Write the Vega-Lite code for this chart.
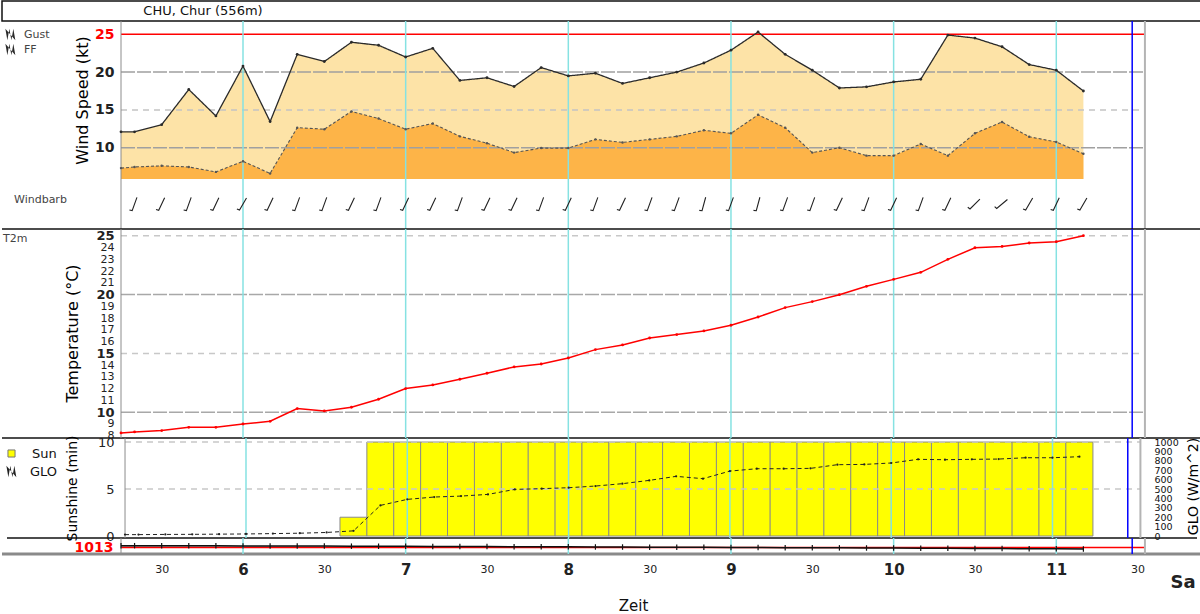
{
  "$schema": "https://vega.github.io/schema/vega-lite/v6.json",
  "padding": 0,
  "background": "white",
  "config": {
    "view": {"stroke": null},
    "font": "DejaVu Sans",
    "axis": {"labelFont": "DejaVu Sans", "titleFont": "DejaVu Sans", "labelOverlap": false, "labelFlush": false, "labelBound": false},
    "legend": {"labelFont": "DejaVu Sans"},
    "title": {"font": "DejaVu Sans"}
  },
  "datasets": {
    "hours": [{"t": "2024-06-01T06:00:00Z"}, {"t": "2024-06-01T07:00:00Z"}, {"t": "2024-06-01T08:00:00Z"}, {"t": "2024-06-01T09:00:00Z"}, {"t": "2024-06-01T10:00:00Z"}, {"t": "2024-06-01T11:00:00Z"}],
    "lborder": [{"t": "2024-06-01T05:15:00Z"}],
    "rborder": [{"t": "2024-06-01T11:32:42Z"}],
    "now": [{"t": "2024-06-01T11:28:00Z"}],
    "obs": [
      {"t": "2024-06-01T05:15:00Z", "gust": 12.1, "ff": 7.3, "temp": 8.24, "sun": 0, "glo": 15, "p": 1013.30},
      {"t": "2024-06-01T05:20:00Z", "gust": 12.1, "ff": 7.45, "dir": 200, "temp": 8.33, "sun": 0, "glo": 15, "p": 1013.30},
      {"t": "2024-06-01T05:30:00Z", "gust": 13.05, "ff": 7.6, "dir": 205, "temp": 8.44, "sun": 0, "glo": 17, "p": 1013.29},
      {"t": "2024-06-01T05:40:00Z", "gust": 17.7, "ff": 7.45, "dir": 200, "temp": 8.72, "sun": 0, "glo": 18, "p": 1013.28},
      {"t": "2024-06-01T05:50:00Z", "gust": 14.2, "ff": 6.8, "dir": 205, "temp": 8.72, "sun": 0, "glo": 20, "p": 1013.28},
      {"t": "2024-06-01T06:00:00Z", "gust": 20.8, "ff": 8.2, "dir": 210, "temp": 9.0, "sun": 0, "glo": 22, "p": 1013.27},
      {"t": "2024-06-01T06:10:00Z", "gust": 13.45, "ff": 6.6, "dir": 205, "temp": 9.23, "sun": 0, "glo": 26, "p": 1013.25},
      {"t": "2024-06-01T06:20:00Z", "gust": 22.35, "ff": 12.65, "dir": 200, "temp": 10.31, "sun": 0, "glo": 30, "p": 1013.25},
      {"t": "2024-06-01T06:30:00Z", "gust": 21.4, "ff": 12.45, "dir": 200, "temp": 10.11, "sun": 0, "glo": 38, "p": 1013.24},
      {"t": "2024-06-01T06:40:00Z", "gust": 23.95, "ff": 14.8, "dir": 205, "temp": 10.42, "sun": 2, "glo": 55, "p": 1013.22},
      {"t": "2024-06-01T06:50:00Z", "gust": 23.55, "ff": 13.85, "dir": 200, "temp": 11.1, "sun": 10, "glo": 326, "p": 1013.21},
      {"t": "2024-06-01T07:00:00Z", "gust": 22.0, "ff": 12.45, "dir": 205, "temp": 12.01, "sun": 10, "glo": 390, "p": 1013.20},
      {"t": "2024-06-01T07:10:00Z", "gust": 23.15, "ff": 13.2, "dir": 205, "temp": 12.32, "sun": 10, "glo": 415, "p": 1013.18},
      {"t": "2024-06-01T07:20:00Z", "gust": 18.9, "ff": 11.5, "dir": 200, "temp": 12.8, "sun": 10, "glo": 425, "p": 1013.17},
      {"t": "2024-06-01T07:30:00Z", "gust": 19.25, "ff": 10.6, "dir": 205, "temp": 13.31, "sun": 10, "glo": 443, "p": 1013.15},
      {"t": "2024-06-01T07:40:00Z", "gust": 18.1, "ff": 9.35, "dir": 205, "temp": 13.85, "sun": 10, "glo": 496, "p": 1013.14},
      {"t": "2024-06-01T07:50:00Z", "gust": 20.6, "ff": 9.95, "dir": 200, "temp": 14.1, "sun": 10, "glo": 504, "p": 1013.12},
      {"t": "2024-06-01T08:00:00Z", "gust": 19.5, "ff": 9.95, "dir": 205, "temp": 14.61, "sun": 10, "glo": 514, "p": 1013.11},
      {"t": "2024-06-01T08:10:00Z", "gust": 19.85, "ff": 11.1, "dir": 200, "temp": 15.32, "sun": 10, "glo": 532, "p": 1013.09},
      {"t": "2024-06-01T08:20:00Z", "gust": 18.5, "ff": 10.7, "dir": 205, "temp": 15.72, "sun": 10, "glo": 557, "p": 1013.08},
      {"t": "2024-06-01T08:30:00Z", "gust": 19.25, "ff": 11.1, "dir": 200, "temp": 16.31, "sun": 10, "glo": 592, "p": 1013.06},
      {"t": "2024-06-01T08:40:00Z", "gust": 20.0, "ff": 11.5, "dir": 200, "temp": 16.6, "sun": 10, "glo": 635, "p": 1013.04},
      {"t": "2024-06-01T08:50:00Z", "gust": 21.2, "ff": 12.3, "dir": 195, "temp": 16.91, "sun": 10, "glo": 610, "p": 1013.03},
      {"t": "2024-06-01T09:00:00Z", "gust": 22.9, "ff": 11.9, "dir": 200, "temp": 17.39, "sun": 10, "glo": 691, "p": 1013.01},
      {"t": "2024-06-01T09:10:00Z", "gust": 25.3, "ff": 14.35, "dir": 195, "temp": 18.09, "sun": 10, "glo": 716, "p": 1012.99},
      {"t": "2024-06-01T09:20:00Z", "gust": 22.35, "ff": 12.65, "dir": 200, "temp": 18.89, "sun": 10, "glo": 716, "p": 1012.97},
      {"t": "2024-06-01T09:30:00Z", "gust": 20.25, "ff": 9.35, "dir": 200, "temp": 19.4, "sun": 10, "glo": 720, "p": 1012.96},
      {"t": "2024-06-01T09:40:00Z", "gust": 17.9, "ff": 10.0, "dir": 205, "temp": 19.99, "sun": 10, "glo": 759, "p": 1012.94},
      {"t": "2024-06-01T09:50:00Z", "gust": 18.05, "ff": 8.95, "dir": 200, "temp": 20.7, "sun": 10, "glo": 762, "p": 1012.92},
      {"t": "2024-06-01T10:00:00Z", "gust": 18.7, "ff": 8.95, "dir": 205, "temp": 21.29, "sun": 10, "glo": 777, "p": 1012.90},
      {"t": "2024-06-01T10:10:00Z", "gust": 19.05, "ff": 10.5, "dir": 200, "temp": 21.89, "sun": 10, "glo": 816, "p": 1012.88},
      {"t": "2024-06-01T10:20:00Z", "gust": 24.9, "ff": 8.95, "dir": 205, "temp": 22.99, "sun": 10, "glo": 812, "p": 1012.86},
      {"t": "2024-06-01T10:30:00Z", "gust": 24.5, "ff": 11.9, "dir": 225, "temp": 23.98, "sun": 10, "glo": 816, "p": 1012.84},
      {"t": "2024-06-01T10:40:00Z", "gust": 23.35, "ff": 13.4, "dir": 230, "temp": 24.09, "sun": 10, "glo": 819, "p": 1012.82},
      {"t": "2024-06-01T10:50:00Z", "gust": 21.0, "ff": 11.45, "dir": 210, "temp": 24.38, "sun": 10, "glo": 833, "p": 1012.80},
      {"t": "2024-06-01T11:00:00Z", "gust": 20.25, "ff": 10.75, "dir": 205, "temp": 24.49, "sun": 10, "glo": 833, "p": 1012.78},
      {"t": "2024-06-01T11:10:00Z", "gust": 17.5, "ff": 9.2, "dir": 210, "temp": 25.0, "sun": 10, "glo": 844, "p": 1012.76}
    ]
  },
  "spacing": 0,
  "bounds": "flush",
  "resolve": {"scale": {"strokeDash": "independent", "fill": "independent"}, "legend": {"strokeDash": "independent", "fill": "independent"}},
  "vconcat": [
    {
      "width": 1200, "height": 20,
      "view": {"stroke": "#111111", "strokeWidth": 1.5},
      "data": {"values": [{"station": "CHU, Chur (556m)"}]},
      "mark": {"type": "text", "dx": -399, "fontSize": 13, "color": "#111111"},
      "encoding": {"text": {"field": "station"}}
    },
    {
      "width": 1200, "height": 158,
      "data": {"name": "obs"},
      "layer": [
        {"mark": {"type": "area", "color": "#fde3a7"},
         "encoding": {
           "x": {"field": "t", "type": "temporal", "scale": {"type": "utc", "domain": [{"year": 2024, "month": 6, "date": 1, "hours": 4, "minutes": 31, "seconds": 6, "utc": true}, {"year": 2024, "month": 6, "date": 1, "hours": 11, "minutes": 53, "seconds": 45, "utc": true}]}, "axis": null},
           "y": {"field": "gust", "type": "quantitative", "scale": {"domain": [5.86, 26.76], "nice": false, "zero": false},
             "axis": {"orient": "left", "offset": -119, "ticks": false, "domain": false, "grid": false, "values": [10, 15, 20, 25], "labelFontSize": 14, "labelFontWeight": "bold", "labelColor": {"condition": {"test": "datum.value == 25", "value": "#ff0000"}, "value": "#222222"}, "labelPadding": 7, "title": "Wind Speed (kt)", "titleFontSize": 16, "titleFontWeight": "normal", "titleColor": "#000000", "titleX": -39, "titleY": 79, "titleAngle": -90, "titleBaseline": "middle", "titleAlign": "center"}},
           "y2": {"datum": 5.86}}},
        {"mark": {"type": "area", "color": "#fdb448"},
         "encoding": {
           "x": {"field": "t", "type": "temporal", "scale": {"type": "utc", "domain": [{"year": 2024, "month": 6, "date": 1, "hours": 4, "minutes": 31, "seconds": 6, "utc": true}, {"year": 2024, "month": 6, "date": 1, "hours": 11, "minutes": 53, "seconds": 45, "utc": true}]}, "axis": null},
           "y": {"field": "ff", "type": "quantitative", "scale": {"domain": [5.86, 26.76], "nice": false, "zero": false}},
           "y2": {"datum": 5.86}}},
        {"data": {"values": [{"v": 15}]},
         "mark": {"type": "rule", "color": "#c4c4c4", "strokeWidth": 1.5, "strokeDash": [6, 5]},
         "encoding": {
           "x": {"datum": {"year": 2024, "month": 6, "date": 1, "hours": 5, "minutes": 15, "utc": true}, "type": "temporal", "scale": {"type": "utc", "domain": [{"year": 2024, "month": 6, "date": 1, "hours": 4, "minutes": 31, "seconds": 6, "utc": true}, {"year": 2024, "month": 6, "date": 1, "hours": 11, "minutes": 53, "seconds": 45, "utc": true}]}, "axis": null},
           "x2": {"datum": {"year": 2024, "month": 6, "date": 1, "hours": 11, "minutes": 32, "seconds": 42, "utc": true}},
           "y": {"field": "v", "type": "quantitative", "scale": {"domain": [5.86, 26.76], "nice": false, "zero": false}}}},
        {"data": {"values": [{"v": 10}, {"v": 20}]},
         "mark": {"type": "rule", "color": "#a0a0a0", "strokeWidth": 1.5, "strokeDash": [14, 2]},
         "encoding": {
           "x": {"datum": {"year": 2024, "month": 6, "date": 1, "hours": 5, "minutes": 15, "utc": true}, "type": "temporal", "scale": {"type": "utc", "domain": [{"year": 2024, "month": 6, "date": 1, "hours": 4, "minutes": 31, "seconds": 6, "utc": true}, {"year": 2024, "month": 6, "date": 1, "hours": 11, "minutes": 53, "seconds": 45, "utc": true}]}, "axis": null},
           "x2": {"datum": {"year": 2024, "month": 6, "date": 1, "hours": 11, "minutes": 32, "seconds": 42, "utc": true}},
           "y": {"field": "v", "type": "quantitative", "scale": {"domain": [5.86, 26.76], "nice": false, "zero": false}}}},
        {"data": {"values": [{"v": 25}]},
         "mark": {"type": "rule", "color": "#ff0000", "strokeWidth": 1.5},
         "encoding": {
           "x": {"datum": {"year": 2024, "month": 6, "date": 1, "hours": 5, "minutes": 15, "utc": true}, "type": "temporal", "scale": {"type": "utc", "domain": [{"year": 2024, "month": 6, "date": 1, "hours": 4, "minutes": 31, "seconds": 6, "utc": true}, {"year": 2024, "month": 6, "date": 1, "hours": 11, "minutes": 53, "seconds": 45, "utc": true}]}, "axis": null},
           "x2": {"datum": {"year": 2024, "month": 6, "date": 1, "hours": 11, "minutes": 32, "seconds": 42, "utc": true}},
           "y": {"field": "v", "type": "quantitative", "scale": {"domain": [5.86, 26.76], "nice": false, "zero": false}}}},
        {"data": {"name": "hours"}, "mark": {"type": "rule", "color": "#86e2e2", "strokeWidth": 1.5},
         "encoding": {"x": {"field": "t", "type": "temporal", "scale": {"type": "utc", "domain": [{"year": 2024, "month": 6, "date": 1, "hours": 4, "minutes": 31, "seconds": 6, "utc": true}, {"year": 2024, "month": 6, "date": 1, "hours": 11, "minutes": 53, "seconds": 45, "utc": true}]}, "axis": null}}},
        {"data": {"name": "lborder"}, "mark": {"type": "rule", "color": "#8c8c8c", "strokeWidth": 1},
         "encoding": {"x": {"field": "t", "type": "temporal", "scale": {"type": "utc", "domain": [{"year": 2024, "month": 6, "date": 1, "hours": 4, "minutes": 31, "seconds": 6, "utc": true}, {"year": 2024, "month": 6, "date": 1, "hours": 11, "minutes": 53, "seconds": 45, "utc": true}]}, "axis": null}}},
        {"data": {"name": "rborder"}, "mark": {"type": "rule", "color": "#b4b4b4", "strokeWidth": 2},
         "encoding": {"x": {"field": "t", "type": "temporal", "scale": {"type": "utc", "domain": [{"year": 2024, "month": 6, "date": 1, "hours": 4, "minutes": 31, "seconds": 6, "utc": true}, {"year": 2024, "month": 6, "date": 1, "hours": 11, "minutes": 53, "seconds": 45, "utc": true}]}, "axis": null}}},
        {"data": {"name": "now"}, "mark": {"type": "rule", "color": "#0000ff", "strokeWidth": 1.5},
         "encoding": {"x": {"field": "t", "type": "temporal", "scale": {"type": "utc", "domain": [{"year": 2024, "month": 6, "date": 1, "hours": 4, "minutes": 31, "seconds": 6, "utc": true}, {"year": 2024, "month": 6, "date": 1, "hours": 11, "minutes": 53, "seconds": 45, "utc": true}]}, "axis": null}}},
        {"mark": {"type": "line", "color": "#2a2a2a", "strokeWidth": 1.3, "point": {"size": 8, "filled": true, "color": "#2a2a2a"}},
         "encoding": {
           "x": {"field": "t", "type": "temporal", "scale": {"type": "utc", "domain": [{"year": 2024, "month": 6, "date": 1, "hours": 4, "minutes": 31, "seconds": 6, "utc": true}, {"year": 2024, "month": 6, "date": 1, "hours": 11, "minutes": 53, "seconds": 45, "utc": true}]}, "axis": null},
           "y": {"field": "gust", "type": "quantitative", "scale": {"domain": [5.86, 26.76], "nice": false, "zero": false}},
           "strokeDash": {"datum": "Gust", "scale": {"domain": ["Gust", "FF"], "range": [[1, 0], [3, 2]]},
             "legend": {"orient": "none", "legendX": 2, "legendY": 7, "title": null, "symbolType": "M-0.9,-1L-0.55,1L-0.2,-1L0.15,1L0.5,-1L0.85,1", "symbolSize": 130, "symbolStrokeColor": "#222222", "symbolStrokeWidth": 1.2, "labelFontSize": 11, "labelColor": "#444444", "rowPadding": -3, "labelOffset": 7}}}},
        {"mark": {"type": "line", "color": "#555555", "strokeWidth": 1.1, "point": {"size": 6, "filled": true, "color": "#555555"}},
         "encoding": {
           "x": {"field": "t", "type": "temporal", "scale": {"type": "utc", "domain": [{"year": 2024, "month": 6, "date": 1, "hours": 4, "minutes": 31, "seconds": 6, "utc": true}, {"year": 2024, "month": 6, "date": 1, "hours": 11, "minutes": 53, "seconds": 45, "utc": true}]}, "axis": null},
           "y": {"field": "ff", "type": "quantitative", "scale": {"domain": [5.86, 26.76], "nice": false, "zero": false}},
           "strokeDash": {"datum": "FF"}}}
      ]
    },
    {
      "width": 1200, "height": 50,
      "title": {"text": "Windbarb", "anchor": "start", "orient": "top", "frame": "group", "offset": 0, "dx": 12, "dy": 33, "baseline": "middle", "fontSize": 11, "fontWeight": "normal", "color": "#444444"},
      "layer": [
        {"data": {"name": "hours"}, "mark": {"type": "rule", "color": "#86e2e2", "strokeWidth": 1.5},
         "encoding": {"x": {"field": "t", "type": "temporal", "scale": {"type": "utc", "domain": [{"year": 2024, "month": 6, "date": 1, "hours": 4, "minutes": 31, "seconds": 6, "utc": true}, {"year": 2024, "month": 6, "date": 1, "hours": 11, "minutes": 53, "seconds": 45, "utc": true}]}, "axis": null}}},
        {"data": {"name": "lborder"}, "mark": {"type": "rule", "color": "#8c8c8c", "strokeWidth": 1},
         "encoding": {"x": {"field": "t", "type": "temporal", "scale": {"type": "utc", "domain": [{"year": 2024, "month": 6, "date": 1, "hours": 4, "minutes": 31, "seconds": 6, "utc": true}, {"year": 2024, "month": 6, "date": 1, "hours": 11, "minutes": 53, "seconds": 45, "utc": true}]}, "axis": null}}},
        {"data": {"name": "rborder"}, "mark": {"type": "rule", "color": "#b4b4b4", "strokeWidth": 2},
         "encoding": {"x": {"field": "t", "type": "temporal", "scale": {"type": "utc", "domain": [{"year": 2024, "month": 6, "date": 1, "hours": 4, "minutes": 31, "seconds": 6, "utc": true}, {"year": 2024, "month": 6, "date": 1, "hours": 11, "minutes": 53, "seconds": 45, "utc": true}]}, "axis": null}}},
        {"data": {"name": "now"}, "mark": {"type": "rule", "color": "#0000ff", "strokeWidth": 1.5},
         "encoding": {"x": {"field": "t", "type": "temporal", "scale": {"type": "utc", "domain": [{"year": 2024, "month": 6, "date": 1, "hours": 4, "minutes": 31, "seconds": 6, "utc": true}, {"year": 2024, "month": 6, "date": 1, "hours": 11, "minutes": 53, "seconds": 45, "utc": true}]}, "axis": null}}},
        {"data": {"name": "obs"},
         "transform": [{"filter": "isValid(datum.dir)"}],
         "mark": {"type": "point", "shape": "M0,1L0,-1L0.4,-1.05", "size": 196, "filled": false, "stroke": "#222222", "strokeWidth": 1.1, "opacity": 1},
         "encoding": {
           "x": {"field": "t", "type": "temporal", "scale": {"type": "utc", "domain": [{"year": 2024, "month": 6, "date": 1, "hours": 4, "minutes": 31, "seconds": 6, "utc": true}, {"year": 2024, "month": 6, "date": 1, "hours": 11, "minutes": 53, "seconds": 45, "utc": true}]}, "axis": null},
           "angle": {"field": "dir", "type": "quantitative", "scale": null}}}
      ]
    },
    {
      "width": 1200, "height": 209,
      "title": {"text": "T2m", "anchor": "start", "orient": "top", "frame": "group", "offset": 0, "dx": 1, "dy": 22, "baseline": "middle", "fontSize": 11, "fontWeight": "normal", "color": "#444444"},
      "data": {"name": "obs"},
      "resolve": {"scale": {"y": "independent"}, "axis": {"y": "independent"}},
      "layer": [
        {"data": {"values": [{"v": 25.57}, {"v": 7.81}]},
         "mark": {"type": "rule", "color": "#111111", "strokeWidth": 1.5},
         "encoding": {
           "x": {"datum": {"year": 2024, "month": 6, "date": 1, "hours": 4, "minutes": 31, "seconds": 6, "utc": true}, "type": "temporal", "scale": {"type": "utc", "domain": [{"year": 2024, "month": 6, "date": 1, "hours": 4, "minutes": 31, "seconds": 6, "utc": true}, {"year": 2024, "month": 6, "date": 1, "hours": 11, "minutes": 53, "seconds": 45, "utc": true}]}, "axis": null},
           "x2": {"datum": {"year": 2024, "month": 6, "date": 1, "hours": 11, "minutes": 53, "seconds": 45, "utc": true}},
           "y": {"field": "v", "type": "quantitative", "scale": {"domain": [7.81, 25.57], "nice": false, "zero": false}, "axis": null}}},
        {"data": {"values": [{"v": 25}, {"v": 15}]},
         "mark": {"type": "rule", "color": "#c8c8c8", "strokeWidth": 1.5, "strokeDash": [6, 5]},
         "encoding": {
           "x": {"datum": {"year": 2024, "month": 6, "date": 1, "hours": 5, "minutes": 15, "utc": true}, "type": "temporal", "scale": {"type": "utc", "domain": [{"year": 2024, "month": 6, "date": 1, "hours": 4, "minutes": 31, "seconds": 6, "utc": true}, {"year": 2024, "month": 6, "date": 1, "hours": 11, "minutes": 53, "seconds": 45, "utc": true}]}, "axis": null},
           "x2": {"datum": {"year": 2024, "month": 6, "date": 1, "hours": 11, "minutes": 32, "seconds": 42, "utc": true}},
           "y": {"field": "v", "type": "quantitative", "scale": {"domain": [7.81, 25.57], "nice": false, "zero": false}, "axis": null}}},
        {"data": {"values": [{"v": 20}, {"v": 10}]},
         "mark": {"type": "rule", "color": "#a8a8a8", "strokeWidth": 1.5, "strokeDash": [14, 2]},
         "encoding": {
           "x": {"datum": {"year": 2024, "month": 6, "date": 1, "hours": 5, "minutes": 15, "utc": true}, "type": "temporal", "scale": {"type": "utc", "domain": [{"year": 2024, "month": 6, "date": 1, "hours": 4, "minutes": 31, "seconds": 6, "utc": true}, {"year": 2024, "month": 6, "date": 1, "hours": 11, "minutes": 53, "seconds": 45, "utc": true}]}, "axis": null},
           "x2": {"datum": {"year": 2024, "month": 6, "date": 1, "hours": 11, "minutes": 32, "seconds": 42, "utc": true}},
           "y": {"field": "v", "type": "quantitative", "scale": {"domain": [7.81, 25.57], "nice": false, "zero": false}, "axis": null}}},
        {"data": {"name": "hours"}, "mark": {"type": "rule", "color": "#86e2e2", "strokeWidth": 1.5},
         "encoding": {"x": {"field": "t", "type": "temporal", "scale": {"type": "utc", "domain": [{"year": 2024, "month": 6, "date": 1, "hours": 4, "minutes": 31, "seconds": 6, "utc": true}, {"year": 2024, "month": 6, "date": 1, "hours": 11, "minutes": 53, "seconds": 45, "utc": true}]}, "axis": null}}},
        {"data": {"name": "lborder"}, "mark": {"type": "rule", "color": "#8c8c8c", "strokeWidth": 1},
         "encoding": {"x": {"field": "t", "type": "temporal", "scale": {"type": "utc", "domain": [{"year": 2024, "month": 6, "date": 1, "hours": 4, "minutes": 31, "seconds": 6, "utc": true}, {"year": 2024, "month": 6, "date": 1, "hours": 11, "minutes": 53, "seconds": 45, "utc": true}]}, "axis": null}}},
        {"data": {"name": "rborder"}, "mark": {"type": "rule", "color": "#b4b4b4", "strokeWidth": 2},
         "encoding": {"x": {"field": "t", "type": "temporal", "scale": {"type": "utc", "domain": [{"year": 2024, "month": 6, "date": 1, "hours": 4, "minutes": 31, "seconds": 6, "utc": true}, {"year": 2024, "month": 6, "date": 1, "hours": 11, "minutes": 53, "seconds": 45, "utc": true}]}, "axis": null}}},
        {"data": {"name": "now"}, "mark": {"type": "rule", "color": "#0000ff", "strokeWidth": 1.5},
         "encoding": {"x": {"field": "t", "type": "temporal", "scale": {"type": "utc", "domain": [{"year": 2024, "month": 6, "date": 1, "hours": 4, "minutes": 31, "seconds": 6, "utc": true}, {"year": 2024, "month": 6, "date": 1, "hours": 11, "minutes": 53, "seconds": 45, "utc": true}]}, "axis": null}}},
        {"mark": {"type": "line", "color": "#ff0000", "strokeWidth": 1.5, "point": {"size": 8, "filled": true, "color": "#ff0000"}},
         "encoding": {
           "x": {"field": "t", "type": "temporal", "scale": {"type": "utc", "domain": [{"year": 2024, "month": 6, "date": 1, "hours": 4, "minutes": 31, "seconds": 6, "utc": true}, {"year": 2024, "month": 6, "date": 1, "hours": 11, "minutes": 53, "seconds": 45, "utc": true}]}, "axis": null},
           "y": {"field": "temp", "type": "quantitative", "scale": {"domain": [7.81, 25.57], "nice": false, "zero": false},
             "axis": {"orient": "left", "offset": -119, "ticks": false, "domain": false, "grid": false, "values": [8, 9, 10, 11, 12, 13, 14, 15, 16, 17, 18, 19, 20, 21, 22, 23, 24, 25], "labelOverlap": false, "labelFontSize": {"condition": {"test": "datum.value == 10 || datum.value == 15 || datum.value == 20 || datum.value == 25", "value": 13}, "value": 11}, "labelFontWeight": {"condition": {"test": "datum.value == 10 || datum.value == 15 || datum.value == 20 || datum.value == 25", "value": "bold"}, "value": "normal"}, "labelColor": "#222222", "labelPadding": 7, "title": "Temperature (°C)", "titleFontSize": 16, "titleFontWeight": "normal", "titleColor": "#000000", "titleX": -49, "titleY": 104, "titleAngle": -90, "titleBaseline": "middle", "titleAlign": "center"}}}}
      ]
    },
    {
      "width": 1200, "height": 100,
      "data": {"name": "obs"},
      "resolve": {"scale": {"y": "independent"}, "axis": {"y": "independent"}},
      "layer": [
        {"layer": [
          {"transform": [{"filter": "datum.sun > 0"}],
           "mark": {"type": "bar", "width": 27.1, "stroke": "#8a8a8a", "strokeWidth": 1},
           "encoding": {
             "x": {"field": "t", "type": "temporal", "scale": {"type": "utc", "domain": [{"year": 2024, "month": 6, "date": 1, "hours": 4, "minutes": 31, "seconds": 6, "utc": true}, {"year": 2024, "month": 6, "date": 1, "hours": 11, "minutes": 53, "seconds": 45, "utc": true}]}, "axis": null},
             "y": {"field": "sun", "type": "quantitative", "scale": {"domain": [-0.21, 10.43], "nice": false, "zero": false},
               "axis": {"orient": "left", "offset": -119, "ticks": false, "domain": false, "grid": false, "values": [0, 5, 10], "labelFontSize": 13, "labelColor": "#222222", "labelPadding": 7, "title": "Sunshine (min)", "titleFontSize": 14, "titleFontWeight": "normal", "titleColor": "#000000", "titleX": -49, "titleY": 50, "titleAngle": -90, "titleBaseline": "middle", "titleAlign": "center"}},
             "y2": {"datum": 0},
             "fill": {"datum": "Sun", "scale": {"range": ["#ffff00"]},
               "legend": {"orient": "none", "legendX": 3, "legendY": 9, "title": null, "symbolType": "square", "symbolSize": 50, "symbolStrokeColor": "#777777", "symbolStrokeWidth": 1, "labelFontSize": 13, "labelColor": "#111111", "labelOffset": 14}}}},
          {"data": {"values": [{"v": 5}, {"v": 10}]},
           "mark": {"type": "rule", "color": "#c8c8c8", "strokeWidth": 1.5, "strokeDash": [6, 5]},
           "encoding": {
             "x": {"datum": {"year": 2024, "month": 6, "date": 1, "hours": 5, "minutes": 15, "utc": true}, "type": "temporal", "scale": {"type": "utc", "domain": [{"year": 2024, "month": 6, "date": 1, "hours": 4, "minutes": 31, "seconds": 6, "utc": true}, {"year": 2024, "month": 6, "date": 1, "hours": 11, "minutes": 53, "seconds": 45, "utc": true}]}, "axis": null},
             "x2": {"datum": {"year": 2024, "month": 6, "date": 1, "hours": 11, "minutes": 32, "seconds": 42, "utc": true}},
             "y": {"field": "v", "type": "quantitative", "scale": {"domain": [-0.21, 10.43], "nice": false, "zero": false}}}},
          {"data": {"values": [{"v": -0.21}]},
           "mark": {"type": "rule", "color": "#111111", "strokeWidth": 1.5},
           "encoding": {
             "x": {"datum": {"year": 2024, "month": 6, "date": 1, "hours": 4, "minutes": 31, "seconds": 6, "utc": true}, "type": "temporal", "scale": {"type": "utc", "domain": [{"year": 2024, "month": 6, "date": 1, "hours": 4, "minutes": 31, "seconds": 6, "utc": true}, {"year": 2024, "month": 6, "date": 1, "hours": 11, "minutes": 53, "seconds": 45, "utc": true}]}, "axis": null},
             "x2": {"datum": {"year": 2024, "month": 6, "date": 1, "hours": 11, "minutes": 53, "seconds": 45, "utc": true}},
             "y": {"field": "v", "type": "quantitative", "scale": {"domain": [-0.21, 10.43], "nice": false, "zero": false}}}}
        ]},
        {"data": {"name": "hours"}, "mark": {"type": "rule", "color": "#86e2e2", "strokeWidth": 1.5},
         "encoding": {"x": {"field": "t", "type": "temporal", "scale": {"type": "utc", "domain": [{"year": 2024, "month": 6, "date": 1, "hours": 4, "minutes": 31, "seconds": 6, "utc": true}, {"year": 2024, "month": 6, "date": 1, "hours": 11, "minutes": 53, "seconds": 45, "utc": true}]}, "axis": null}}},
        {"data": {"name": "lborder"}, "mark": {"type": "rule", "color": "#8c8c8c", "strokeWidth": 1},
         "encoding": {"x": {"field": "t", "type": "temporal", "scale": {"type": "utc", "domain": [{"year": 2024, "month": 6, "date": 1, "hours": 4, "minutes": 31, "seconds": 6, "utc": true}, {"year": 2024, "month": 6, "date": 1, "hours": 11, "minutes": 53, "seconds": 45, "utc": true}]}, "axis": null}}},
        {"data": {"name": "rborder"}, "mark": {"type": "rule", "color": "#b4b4b4", "strokeWidth": 2},
         "encoding": {"x": {"field": "t", "type": "temporal", "scale": {"type": "utc", "domain": [{"year": 2024, "month": 6, "date": 1, "hours": 4, "minutes": 31, "seconds": 6, "utc": true}, {"year": 2024, "month": 6, "date": 1, "hours": 11, "minutes": 53, "seconds": 45, "utc": true}]}, "axis": null}}},
        {"data": {"name": "now"}, "mark": {"type": "rule", "color": "#0000ff", "strokeWidth": 1.5},
         "encoding": {"x": {"field": "t", "type": "temporal", "scale": {"type": "utc", "domain": [{"year": 2024, "month": 6, "date": 1, "hours": 4, "minutes": 31, "seconds": 6, "utc": true}, {"year": 2024, "month": 6, "date": 1, "hours": 11, "minutes": 53, "seconds": 45, "utc": true}]}, "axis": null}}},
        {"mark": {"type": "line", "color": "#222222", "strokeWidth": 1, "point": {"size": 5, "filled": true, "color": "#222222"}},
         "encoding": {
           "x": {"field": "t", "type": "temporal", "scale": {"type": "utc", "domain": [{"year": 2024, "month": 6, "date": 1, "hours": 4, "minutes": 31, "seconds": 6, "utc": true}, {"year": 2024, "month": 6, "date": 1, "hours": 11, "minutes": 53, "seconds": 45, "utc": true}]}, "axis": null},
           "y": {"field": "glo", "type": "quantitative", "scale": {"domain": [-21, 1043], "nice": false, "zero": false},
             "axis": {"orient": "right", "offset": -57, "ticks": false, "domain": false, "grid": false, "format": "d", "values": [0, 100, 200, 300, 400, 500, 600, 700, 800, 900, 1000], "labelFontSize": 9.5, "labelColor": "#111111", "labelPadding": 9, "title": "GLO (W/m^2)", "titleFontSize": 14, "titleFontWeight": "normal", "titleColor": "#000000", "titleX": 48, "titleY": 48, "titleAngle": -90, "titleBaseline": "middle", "titleAlign": "center"}},
           "strokeDash": {"datum": "GLO", "scale": {"range": [[4, 3]]},
             "legend": {"orient": "none", "legendX": 3, "legendY": 27, "title": null, "symbolType": "M-0.9,-1L-0.55,1L-0.2,-1L0.15,1L0.5,-1L0.85,1", "symbolSize": 130, "symbolStrokeColor": "#444444", "symbolStrokeWidth": 1, "labelFontSize": 13, "labelColor": "#111111", "labelOffset": 12}}}}
      ]
    },
    {
      "width": 1200, "height": 16,
      "data": {"name": "obs"},
      "layer": [
        {"mark": {"type": "area", "color": "#8a8a8a", "opacity": 0.55},
         "encoding": {
           "x": {"field": "t", "type": "temporal", "scale": {"type": "utc", "domain": [{"year": 2024, "month": 6, "date": 1, "hours": 4, "minutes": 31, "seconds": 6, "utc": true}, {"year": 2024, "month": 6, "date": 1, "hours": 11, "minutes": 53, "seconds": 45, "utc": true}]}},
           "y": {"field": "p", "type": "quantitative", "scale": {"domain": [1011.92, 1014.58], "nice": false, "zero": false},
             "axis": {"orient": "left", "offset": -119, "ticks": false, "domain": false, "grid": false, "format": "d", "values": [1013], "labelFontSize": 14, "labelFontWeight": "bold", "labelColor": "#ff0000", "labelPadding": 8, "title": null}},
           "y2": {"datum": 1013}}},
        {"data": {"values": [{"v": 1013}]},
         "mark": {"type": "rule", "color": "#ff0000", "strokeWidth": 1.5},
         "encoding": {
           "x": {"datum": {"year": 2024, "month": 6, "date": 1, "hours": 5, "minutes": 15, "utc": true}, "type": "temporal", "scale": {"type": "utc", "domain": [{"year": 2024, "month": 6, "date": 1, "hours": 4, "minutes": 31, "seconds": 6, "utc": true}, {"year": 2024, "month": 6, "date": 1, "hours": 11, "minutes": 53, "seconds": 45, "utc": true}]}},
           "x2": {"datum": {"year": 2024, "month": 6, "date": 1, "hours": 11, "minutes": 32, "seconds": 42, "utc": true}},
           "y": {"field": "v", "type": "quantitative", "scale": {"domain": [1011.92, 1014.58], "nice": false, "zero": false}}}},
        {"data": {"values": [{"v": 1011.92}]},
         "mark": {"type": "rule", "color": "#8a8a8a", "strokeWidth": 3},
         "encoding": {
           "x": {"datum": {"year": 2024, "month": 6, "date": 1, "hours": 4, "minutes": 31, "seconds": 6, "utc": true}, "type": "temporal", "scale": {"type": "utc", "domain": [{"year": 2024, "month": 6, "date": 1, "hours": 4, "minutes": 31, "seconds": 6, "utc": true}, {"year": 2024, "month": 6, "date": 1, "hours": 11, "minutes": 53, "seconds": 45, "utc": true}]}},
           "x2": {"datum": {"year": 2024, "month": 6, "date": 1, "hours": 11, "minutes": 53, "seconds": 45, "utc": true}},
           "y": {"field": "v", "type": "quantitative", "scale": {"domain": [1011.92, 1014.58], "nice": false, "zero": false}}}},
        {"data": {"name": "hours"}, "mark": {"type": "rule", "color": "#86e2e2", "strokeWidth": 1.5},
         "encoding": {"x": {"field": "t", "type": "temporal", "scale": {"type": "utc", "domain": [{"year": 2024, "month": 6, "date": 1, "hours": 4, "minutes": 31, "seconds": 6, "utc": true}, {"year": 2024, "month": 6, "date": 1, "hours": 11, "minutes": 53, "seconds": 45, "utc": true}]}}}},
        {"data": {"name": "lborder"}, "mark": {"type": "rule", "color": "#8c8c8c", "strokeWidth": 1},
         "encoding": {"x": {"field": "t", "type": "temporal", "scale": {"type": "utc", "domain": [{"year": 2024, "month": 6, "date": 1, "hours": 4, "minutes": 31, "seconds": 6, "utc": true}, {"year": 2024, "month": 6, "date": 1, "hours": 11, "minutes": 53, "seconds": 45, "utc": true}]}}}},
        {"data": {"name": "rborder"}, "mark": {"type": "rule", "color": "#b4b4b4", "strokeWidth": 2},
         "encoding": {"x": {"field": "t", "type": "temporal", "scale": {"type": "utc", "domain": [{"year": 2024, "month": 6, "date": 1, "hours": 4, "minutes": 31, "seconds": 6, "utc": true}, {"year": 2024, "month": 6, "date": 1, "hours": 11, "minutes": 53, "seconds": 45, "utc": true}]}}}},
        {"data": {"name": "now"}, "mark": {"type": "rule", "color": "#0000ff", "strokeWidth": 1.5},
         "encoding": {"x": {"field": "t", "type": "temporal", "scale": {"type": "utc", "domain": [{"year": 2024, "month": 6, "date": 1, "hours": 4, "minutes": 31, "seconds": 6, "utc": true}, {"year": 2024, "month": 6, "date": 1, "hours": 11, "minutes": 53, "seconds": 45, "utc": true}]}}}},
        {"mark": {"type": "line", "color": "#111111", "strokeWidth": 1.5},
         "encoding": {
           "x": {"field": "t", "type": "temporal", "scale": {"type": "utc", "domain": [{"year": 2024, "month": 6, "date": 1, "hours": 4, "minutes": 31, "seconds": 6, "utc": true}, {"year": 2024, "month": 6, "date": 1, "hours": 11, "minutes": 53, "seconds": 45, "utc": true}]},
             "axis": {"orient": "bottom", "ticks": false, "domain": false, "grid": false,
               "values": [
                 {"year": 2024, "month": 6, "date": 1, "hours": 5, "minutes": 30, "utc": true},
                 {"year": 2024, "month": 6, "date": 1, "hours": 6, "minutes": 0, "utc": true},
                 {"year": 2024, "month": 6, "date": 1, "hours": 6, "minutes": 30, "utc": true},
                 {"year": 2024, "month": 6, "date": 1, "hours": 7, "minutes": 0, "utc": true},
                 {"year": 2024, "month": 6, "date": 1, "hours": 7, "minutes": 30, "utc": true},
                 {"year": 2024, "month": 6, "date": 1, "hours": 8, "minutes": 0, "utc": true},
                 {"year": 2024, "month": 6, "date": 1, "hours": 8, "minutes": 30, "utc": true},
                 {"year": 2024, "month": 6, "date": 1, "hours": 9, "minutes": 0, "utc": true},
                 {"year": 2024, "month": 6, "date": 1, "hours": 9, "minutes": 30, "utc": true},
                 {"year": 2024, "month": 6, "date": 1, "hours": 10, "minutes": 0, "utc": true},
                 {"year": 2024, "month": 6, "date": 1, "hours": 10, "minutes": 30, "utc": true},
                 {"year": 2024, "month": 6, "date": 1, "hours": 11, "minutes": 0, "utc": true},
                 {"year": 2024, "month": 6, "date": 1, "hours": 11, "minutes": 30, "utc": true}
               ],
               "labelExpr": "utcminutes(datum.value) == 30 ? '30' : '' + utchours(datum.value)",
               "labelFontSize": {"condition": {"test": "utcminutes(datum.value) == 0", "value": 15}, "value": 11},
               "labelFontWeight": {"condition": {"test": "utcminutes(datum.value) == 0", "value": "bold"}, "value": "normal"},
               "labelColor": "#222222", "labelPadding": 15, "labelBaseline": "middle",
               "title": "Zeit", "titleFontSize": 15, "titleFontWeight": "normal", "titleColor": "#111111", "titleX": 631, "titleY": 51, "titleBaseline": "middle"}},
           "y": {"field": "p", "type": "quantitative", "scale": {"domain": [1011.92, 1014.58], "nice": false, "zero": false}}}},
        {"mark": {"type": "point", "shape": "M0,-1L0,1", "size": 30, "filled": false, "stroke": "#111111", "strokeWidth": 1.2, "opacity": 1},
         "encoding": {
           "x": {"field": "t", "type": "temporal", "scale": {"type": "utc", "domain": [{"year": 2024, "month": 6, "date": 1, "hours": 4, "minutes": 31, "seconds": 6, "utc": true}, {"year": 2024, "month": 6, "date": 1, "hours": 11, "minutes": 53, "seconds": 45, "utc": true}]}},
           "y": {"field": "p", "type": "quantitative", "scale": {"domain": [1011.92, 1014.58], "nice": false, "zero": false}}}},
        {"data": {"values": [{"day": "Sa"}]},
         "mark": {"type": "text", "fontSize": 18, "fontWeight": "bold", "dy": 37, "color": "#222222"},
         "encoding": {
           "x": {"datum": {"year": 2024, "month": 6, "date": 1, "hours": 11, "minutes": 46, "seconds": 45, "utc": true}, "type": "temporal", "scale": {"type": "utc", "domain": [{"year": 2024, "month": 6, "date": 1, "hours": 4, "minutes": 31, "seconds": 6, "utc": true}, {"year": 2024, "month": 6, "date": 1, "hours": 11, "minutes": 53, "seconds": 45, "utc": true}]}},
           "text": {"field": "day"}}}
      ]
    }
  ]
}
